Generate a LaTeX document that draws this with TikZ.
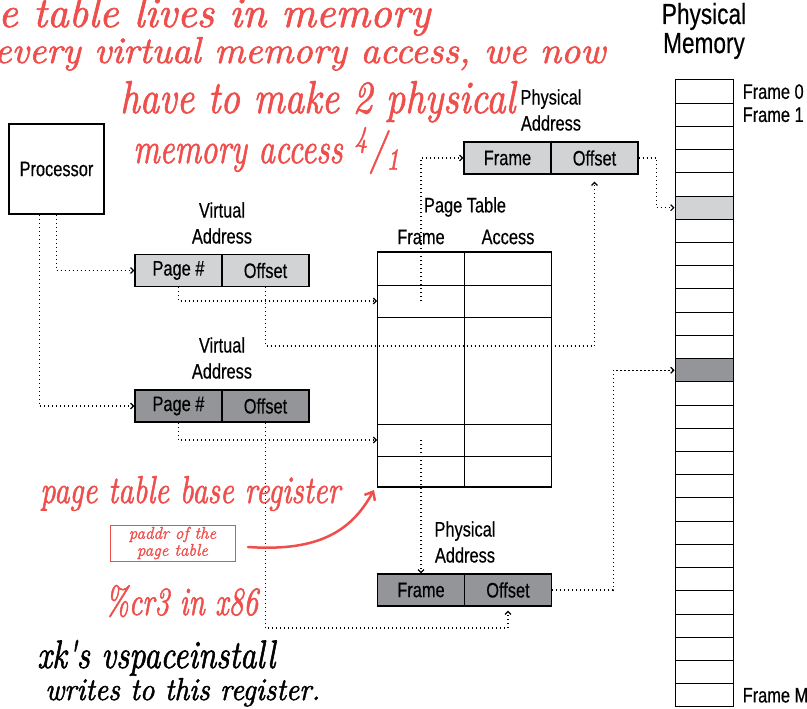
\documentclass[tikz,border=0pt]{standalone}
\usepackage{fontspec}
\setsansfont{Liberation Sans}[FakeStretch=0.78,FakeBold=0.4]
\newfontfamily\handfont{Latin Modern Roman}[FakeBold=1.6]
\usepackage{graphicx}
\usepackage{tikz}
\usetikzlibrary{arrows.meta,positioning,shapes}
\definecolor{lightcell}{HTML}{D1D3D4}
\definecolor{darkcell}{HTML}{939598}
\definecolor{pen}{HTML}{EE4F4C}
\tikzset{
  field/.style={draw,line width=1.2pt,minimum width=87pt,minimum height=32pt,inner sep=0pt,font=\sffamily\fontsize{21}{24}\selectfont},
  txt/.style={align=center,inner sep=0pt,font=\sffamily\fontsize{21}{26}\selectfont},
  cell/.style={draw,line width=0.8pt,minimum width=87pt,inner sep=0pt},
  memrow/.style={draw,line width=1pt,minimum width=58pt,minimum height=23.22pt,inner sep=0pt},
  link/.style={line width=1.2pt,dash pattern=on 1.2pt off 2.8pt,-{Straight Barb[length=3pt,width=6pt]}},
  hand/.style={pen,font=\handfont\itshape,inner sep=0pt,anchor=base west},
}
\begin{document}
\begin{tikzpicture}[x=1pt,y=-1pt]
\useasboundingbox (0,0) rectangle (807,709);
\node[draw,line width=1.3pt,minimum width=95pt,minimum height=90pt,font=\sffamily\fontsize{21}{24}\selectfont] (proc) at (56.5,169) {Processor};
\node[txt] (vlab1) at (222,223) {Virtual\\Address};
\node[field,fill=lightcell] (va1p) at (178.5,270.5) {Page \#};
\node[field,fill=lightcell] (va1o) at (265.5,270.5) {Offset};
\node[txt] (vlab2) at (222,358) {Virtual\\Address};
\node[field,fill=darkcell] (va2p) at (178.5,406) {Page \#};
\node[field,fill=darkcell] (va2o) at (265.5,406) {Offset};
\node[txt] (plab1) at (551,110) {Physical\\Address};
\node[field,fill=lightcell] (pa1f) at (507.5,158) {Frame};
\node[field,fill=lightcell] (pa1o) at (594.5,158) {Offset};
\node[txt] (plab2) at (465,542) {Physical\\Address};
\node[field,fill=darkcell] (pa2f) at (421,590) {Frame};
\node[field,fill=darkcell] (pa2o) at (508,590) {Offset};
\node[txt] (ptitle) at (465,207) {Page Table};
\node[txt] (fcol) at (421,237) {Frame};
\node[txt] (acol) at (508,237) {Access};
\foreach \n/\y/\h in {1/268.5/33,2/301/32,3/370.5/107,4/440/32,5/471.5/31}{
  \node[cell,minimum height=\h pt] (f\n) at (421,\y) {};
  \node[cell,minimum height=\h pt] (a\n) at (508,\y) {};
}
\node[draw,line width=1.3pt,minimum width=174pt,minimum height=235pt,inner sep=0pt] (ptab) at (464.5,369.5) {};
\node[txt,font=\sffamily\fontsize{29}{29}\selectfont] (memtitle) at (704,31) {Physical\\Memory};
\foreach \i in {0,...,26}{
  \def\c{white}
  \ifnum\i=5 \def\c{lightcell}\fi
  \ifnum\i=12 \def\c{darkcell}\fi
  \node[memrow,fill=\c] (m\i) at (704,{91.61+23.22*\i}) {};
}
\node[txt,anchor=west,xshift=9pt] (fr0) at (m0.east) {Frame 0};
\node[txt,anchor=west,xshift=9pt] (fr1) at (m1.east) {Frame 1};
\node[txt,anchor=west,xshift=9pt] (frm) at (m26.east) {Frame M};
\coordinate (turn1) at (594.5,346);
\coordinate (turn2) at (508,628);
\draw[link] (proc.south) |- (va1p.west);
\draw[link] ([xshift=-17pt]proc.south) |- (va2p.west);
\draw[link] (va1p.south) |- (f2.west);
\draw[link] (va2p.south) |- (f4.west);
\draw[link] (f2.center) |- (pa1f.west);
\draw[link] (f4.center) -- (pa2f.north);
\draw[link,shorten >=7pt] (va1o.south) |- (turn1) -- (pa1o.south);
\draw[link,shorten >=4pt] (va2o.south) |- (turn2) -- (pa2o.south);
\draw[link] (pa1o.east) -- ++(18,0) |- (m5.west);
\draw[link] (pa2o.east) -- ++(61,0) |- (m12.west);
\node[hand] (note1) at (-2,27) {\resizebox{432pt}{30pt}{e table lives in memory}};
\node[hand] (note2) at (-6,63) {\resizebox{611pt}{26pt}{every virtual memory access, we now}};
\node[hand] (note3) at (120,113) {\resizebox{395pt}{32pt}{have to make 2 physical}};
\node[hand] (note4) at (133,163) {\resizebox{268pt}{36pt}{memory access \textsuperscript{4}/\textsubscript{1}}};
\node[hand] (ptbr) at (40,503) {\resizebox{300pt}{27pt}{page table base register}};
\node[draw=pen,line width=1pt,minimum width=125pt,minimum height=36pt,inner sep=0pt,align=center,pen,font=\handfont\itshape\fontsize{17}{17}\selectfont] (paddr) at (172.5,543) {paddr of the\\page table};
\node[hand] (cr3) at (105,615) {\resizebox{153pt}{30pt}{\%cr3 in x86}};
\node[hand,black] (xk) at (37,668) {\resizebox{238pt}{28pt}{xk's vspaceinstall}};
\node[hand,black] (writes) at (45,700) {\resizebox{275pt}{22pt}{writes to this register.}};
\coordinate (rtail) at (248,547);
\coordinate (rhead) at (374,490);
\draw[pen,line width=2.5pt,line cap=round,-{Straight Barb[length=7pt,width=12pt]}] (rtail) .. controls (320,552) and (352,530) .. (rhead);
\end{tikzpicture}
\end{document}
